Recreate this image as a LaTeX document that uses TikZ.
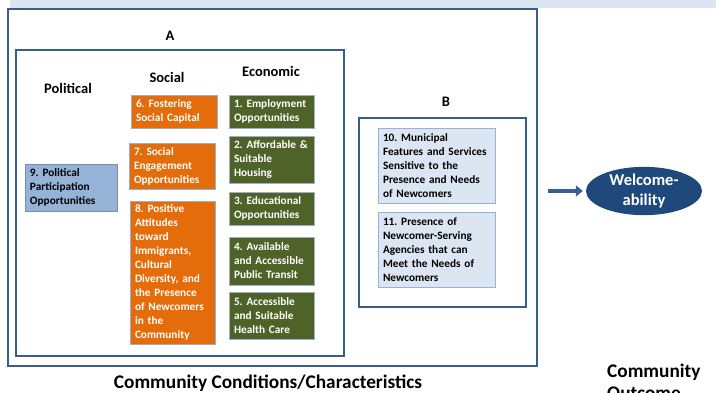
\documentclass[tikz,border=0pt]{standalone}
\usepackage{fontspec}
\setmainfont{Carlito}
\usetikzlibrary{arrows.meta,shapes.geometric}
\definecolor{bandc}{HTML}{DCE6F2}
\definecolor{framec}{HTML}{385D8A}
\definecolor{orng}{HTML}{E46C0A}
\definecolor{grn}{HTML}{4F6228}
\definecolor{pblue}{HTML}{95B3D7}
\definecolor{lblue}{HTML}{DCE6F2}
\definecolor{boxedge}{HTML}{9AB0CC}
\definecolor{dkblue}{HTML}{1F497D}
\definecolor{arrowc}{HTML}{376092}
\tikzset{
  card/.style={draw=boxedge, line width=0.8pt, align=left, inner xsep=5pt, inner ysep=2pt,
    font=\fontsize{11.3}{14}\selectfont\bfseries,
    execute at begin node={\hyphenpenalty=10000\exhyphenpenalty=10000}},
  soc/.style={card, fill=orng, text=white, text width=76pt},
  eco/.style={card, fill=grn, text=white, text width=75pt},
  pol/.style={card, fill=pblue, text=black, text width=82pt, draw=pblue!80!black},
  mun/.style={card, fill=lblue, text=black, draw=pblue, text width=107pt},
  frm/.style={draw=framec, line width=1.6pt, inner sep=0pt},
  hdr/.style={font=\fontsize{14.5}{17}\selectfont\bfseries, inner sep=0pt},
  big/.style={font=\fontsize{19.3}{23}\selectfont\bfseries, inner sep=0pt}
}
\begin{document}
\begin{tikzpicture}[x=1pt,y=-1pt]
\useasboundingbox (0,0) rectangle (716,392);
\begin{scope}
\clip (0,0) rectangle (716,392);
\node[fill=bandc, minimum width=706pt, minimum height=8pt, inner sep=0pt, anchor=north west] (band) at (10,0) {};
% frames
\node[frm, minimum width=529pt, minimum height=357pt] (outer) at (272.5,187.5) {};
\node[frm, minimum width=328pt, minimum height=306pt] (frameA) at (180,203) {};
\node[frm, minimum width=167pt, minimum height=189pt] (frameB) at (442.5,212.5) {};
% labels
\node[hdr] (labA) at (170,36) {A};
\node[hdr] (labB) at (446,102) {B};
\node[hdr] (hpol) at (68,88) {Political};
\node[hdr] (hsoc) at (167,77) {Social};
\node[hdr] (heco) at (271,71) {Economic};
% social
\node[soc, minimum height=33pt] (n6) at (174,111.5) {6.~Fostering\\Social~Capital};
\node[soc, minimum height=46pt] (n7) at (172,166) {7.~Social\\Engagement\\Opportunities};
\node[soc, text width=75pt, minimum height=143pt] (n8) at (172.5,272.5) {8.~Positive\\Attitudes\\toward\\Immigrants,\\Cultural\\Diversity,~and\\the~Presence\\of~Newcomers\\in~the\\Community};
% political
\node[pol, minimum height=47pt] (n9) at (71,187.5) {9.~Political\\Participation\\Opportunities};
% economic
\node[eco, minimum height=33pt] (n1) at (271.5,111.5) {1.~Employment\\Opportunities};
\node[eco, minimum height=47pt] (n2) at (271.5,159.5) {2.~Affordable~\&\\Suitable\\Housing};
\node[eco, minimum height=33pt] (n3) at (271.5,208.5) {3.~Educational\\Opportunities};
\node[eco, minimum height=48pt] (n4) at (271.5,261) {4.~Available\\and~Accessible\\Public~Transit};
\node[eco, minimum height=47pt] (n5) at (271.5,315.5) {5.~Accessible\\and~Suitable\\Health~Care};
% municipal
\node[mun, minimum height=75pt] (n10) at (436.5,165.5) {10.~Municipal\\Features~and~Services\\Sensitive~to~the\\Presence~and~Needs\\of~Newcomers};
\node[mun, minimum height=75pt] (n11) at (436.5,249.5) {11.~Presence~of\\Newcomer-Serving\\Agencies~that~can\\Meet~the~Needs~of\\Newcomers};
% outcome
\node[ellipse, fill=dkblue, minimum width=116pt, minimum height=44pt, inner sep=0pt, text=white, align=center,
  font=\fontsize{16.5}{20}\selectfont\bfseries] (wel) at (644,191) {Welcome-\\ability};
\draw[arrowc, line width=4.5pt, -{Triangle[length=7pt,width=11pt]}, shorten <=10pt, shorten >=3pt]
  (outer.east |- wel.west) -- (wel.west);
% bottom texts
\node[big, anchor=base] (cond) at (268,388) {Community Conditions/Characteristics};
\node[big, anchor=base west] (out1) at (607,377) {Community};
\node[big, anchor=base west] (out2) at (607,399) {Outcome};
\end{scope}
\end{tikzpicture}
\end{document}
